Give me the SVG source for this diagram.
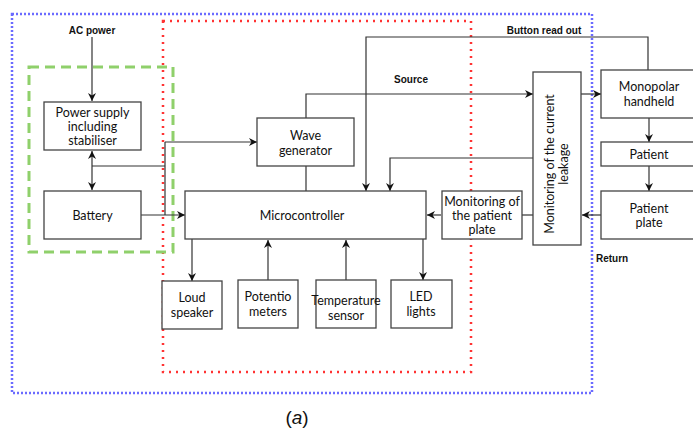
<svg xmlns="http://www.w3.org/2000/svg" width="693" height="433" viewBox="0 0 693 433">
<defs>
<marker id="ah" viewBox="0 0 10 10" refX="10" refY="5" markerWidth="8" markerHeight="8" markerUnits="userSpaceOnUse" orient="auto-start-reverse">
<path d="M0,0 L10,5 L0,10 L3,5 Z" fill="#111"/>
</marker>
<style>
.box{fill:#fff;stroke:#444;stroke-width:1.3}
.t{font-family:Lato,"Liberation Sans",sans-serif;font-size:12.5px;fill:#111;text-anchor:middle}
.b{font-family:"Liberation Sans",Arial,sans-serif;font-size:10px;font-weight:bold;fill:#111}
.c{fill:none;stroke:#333;stroke-width:1.2}
.a{marker-end:url(#ah)}
</style>
</defs>
<rect width="693" height="433" fill="#fff"/>
<g id="regions">
<rect x="12" y="14" width="580" height="379" fill="none" stroke="#6b6bff" stroke-width="2.5" stroke-dasharray="2,2"/>
<rect x="163" y="21" width="308" height="351" fill="none" stroke="#ff3333" stroke-width="2.5" stroke-dasharray="2,5"/>
<rect x="29" y="67" width="144" height="185" fill="none" stroke="#8fd06b" stroke-width="3" stroke-dasharray="10,6"/>
</g>
<g id="connectors">
<line class="c a" x1="92" y1="37" x2="92" y2="101"/>
<line class="c a" x1="92" y1="166" x2="92" y2="151" />
<line class="c a" x1="92" y1="166" x2="92" y2="190"/>
<polyline class="c" points="92,166 165,166"/>
<polyline class="c" points="165,215 165,142"/>
<line class="c a" x1="165" y1="142" x2="257" y2="142"/>
<line class="c a" x1="141" y1="215" x2="185" y2="215"/>
<line class="c" x1="306" y1="166" x2="306" y2="191"/>
<polyline class="c a" points="306,118 306,94 533,94"/>
<polyline class="c a" points="648,70 648,37 366,37 366,191"/>
<polyline class="c a" points="533,158 390,158 390,191"/>
<line class="c a" x1="441" y1="215" x2="427" y2="215"/>
<line class="c" x1="533" y1="215" x2="522" y2="215"/>
<line class="c a" x1="581" y1="94" x2="601" y2="94"/>
<line class="c a" x1="649" y1="118" x2="649" y2="142"/>
<line class="c a" x1="649" y1="166" x2="649" y2="191"/>
<line class="c a" x1="601" y1="215" x2="582" y2="215"/>
<line class="c a" x1="192" y1="239" x2="192" y2="281"/>
<line class="c a" x1="268" y1="280" x2="268" y2="240"/>
<line class="c a" x1="346" y1="280" x2="346" y2="240"/>
<line class="c a" x1="423" y1="239" x2="423" y2="280"/>
</g>
<g id="labels">
<text class="b" x="92" y="34" text-anchor="middle">AC power</text>
<text class="b" x="411" y="83" text-anchor="middle">Source</text>
<text class="b" x="544" y="34" text-anchor="middle">Button read out</text>
<text class="b" x="596" y="262">Return</text>
</g>
<g id="power-supply">
<rect class="box" x="44" y="102" width="97" height="48"/>
<text class="t" x="92.5" y="117">Power supply</text>
<text class="t" x="92.5" y="131">including</text>
<text class="t" x="92.5" y="145">stabiliser</text>
</g>
<g id="battery">
<rect class="box" x="44" y="191" width="97" height="48"/>
<text class="t" x="92.5" y="220">Battery</text>
</g>
<g id="wave-generator">
<rect class="box" x="257" y="118" width="97" height="48"/>
<text class="t" x="305.5" y="140">Wave</text>
<text class="t" x="305.5" y="155">generator</text>
</g>
<g id="microcontroller">
<rect class="box" x="185" y="191" width="241" height="48"/>
<text class="t" x="302" y="220">Microcontroller</text>
</g>
<g id="monitoring-patient-plate">
<rect class="box" x="442" y="191" width="80" height="48"/>
<text class="t" x="482" y="206">Monitoring of</text>
<text class="t" x="482" y="220">the patient</text>
<text class="t" x="482" y="234">plate</text>
</g>
<g id="monitoring-current-leakage">
<rect class="box" x="533" y="72" width="48" height="173"/>
<text class="t" transform="translate(554,164) rotate(-90)">Monitoring of the current</text>
<text class="t" transform="translate(568,164) rotate(-90)">leakage</text>
</g>
<g id="monopolar-handheld">
<rect class="box" x="601" y="70" width="97" height="48"/>
<text class="t" x="649" y="91">Monopolar</text>
<text class="t" x="649" y="106">handheld</text>
</g>
<g id="patient">
<rect class="box" x="601" y="142" width="97" height="24"/>
<text class="t" x="649" y="159">Patient</text>
</g>
<g id="patient-plate">
<rect class="box" x="601" y="191" width="97" height="48"/>
<text class="t" x="649" y="213">Patient</text>
<text class="t" x="649" y="227">plate</text>
</g>
<g id="loud-speaker">
<rect class="box" x="162" y="281" width="60" height="48"/>
<text class="t" x="192" y="302">Loud</text>
<text class="t" x="192" y="317">speaker</text>
</g>
<g id="potentiometers">
<rect class="box" x="238" y="280" width="60" height="48"/>
<text class="t" x="268" y="301">Potentio</text>
<text class="t" x="268" y="316">meters</text>
</g>
<g id="temperature-sensor">
<rect class="box" x="316" y="280" width="60" height="48"/>
<text class="t" x="346" y="305">Temperature</text>
<text class="t" x="346" y="320">sensor</text>
</g>
<g id="led-lights">
<rect class="box" x="391" y="280" width="61" height="48"/>
<text class="t" x="421" y="301">LED</text>
<text class="t" x="421" y="316">lights</text>
</g>
<text x="297" y="424" text-anchor="middle" font-family="Liberation Sans, Arial, sans-serif" font-size="19" fill="#111">(<tspan font-style="italic">a</tspan>)</text>
</svg>
